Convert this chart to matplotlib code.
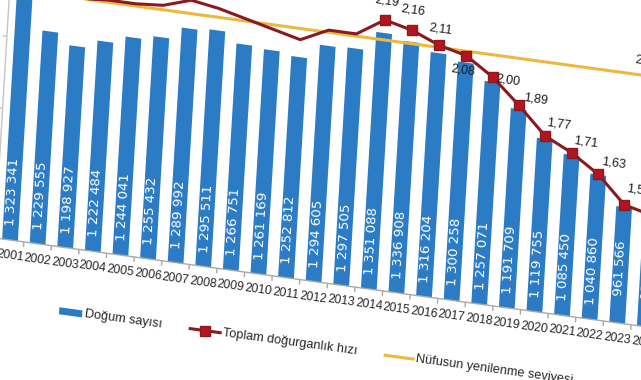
import numpy as np
import matplotlib
matplotlib.use("Agg")
import matplotlib.pyplot as plt
from matplotlib.transforms import Affine2D
from matplotlib.patches import Rectangle
from matplotlib.lines import Line2D

# ---------------- data ----------------
years = list(range(2001, 2025))
births = [1323341, 1229555, 1198927, 1222484, 1244041, 1255432, 1289992, 1295511,
          1266751, 1261169, 1252812, 1294605, 1297505, 1351088, 1336908, 1316204,
          1300258, 1257071, 1191709, 1119755, 1085450, 1040860, 961566, 937559]
birth_labels = ["1 323 341", "1 229 555", "1 198 927", "1 222 484", "1 244 041", "1 255 432",
                "1 289 992", "1 295 511", "1 266 751", "1 261 169", "1 252 812", "1 294 605",
                "1 297 505", "1 351 088", "1 336 908", "1 316 204", "1 300 258", "1 257 071",
                "1 191 709", "1 119 755", "1 085 450", "1 040 860", "961 566", "937 559"]
tfr = [2.38, 2.30, 2.10, 2.11, 2.11, 2.12, 2.16, 2.14, 2.11, 2.08, 2.05, 2.11,
       2.11, 2.19, 2.16, 2.11, 2.08, 2.00, 1.89, 1.77, 1.71, 1.63, 1.51, 1.48]
tfr_label_years = [2014, 2015, 2016, 2017, 2018, 2019, 2020, 2021, 2022, 2023, 2024]
tfr_label_text = ["2,19", "2,16", "2,11", "2,08", "2,00", "1,89", "1,77", "1,71", "1,63", "1,51", "1,48"]
replacement = [2.10] * len(years)
replacement_label = "2,10"
legend_labels = ["Doğum sayısı", "Toplam doğurganlık hızı", "Nüfusun yenilenme seviyesi"]
birth_axis_ticks = [800000, 1000000, 1200000, 1400000]

# ---------------- style / layout ----------------
W, H = 641, 380
BASE_Z = 140.0          # baseline height (px) in upright frame
X0 = 10.0               # x of first bar (px)
STEP = 27.6             # px per year
SLOPE = 0.1365          # horizontal tilt
SHEAR = 0.06            # vertical lean
KB = 1 / 2778.0         # px per birth
B0 = 640000             # birth axis minimum
KT = 222.0              # px per TFR unit
T0 = 0.978              # TFR axis minimum
ANG = -7.77
VANG = 86.6

BLUE = "#2b7cc5"
RED = "#8a1a1e"
REDM = "#b3151f"
GOLD = "#ecb93e"
TXT = "#262626"

fig = plt.figure(figsize=(W / 100, H / 100), dpi=100)
fig.patch.set_facecolor("white")

xl = (2000.45, 2024.6)
Xl = X0 + (xl[0] - years[0]) * STEP
Xr = X0 + (xl[1] - years[0]) * STEP
top_px = 300.0
ax = fig.add_axes([Xl / W, BASE_Z / H, (Xr - Xl) / W, top_px / H])
ax.set_xlim(*xl)
ax.set_ylim(B0, B0 + top_px / KB)
ax.axis("off")
ax2 = ax.twinx()
ax2.set_xlim(*xl)
ax2.set_ylim(T0, T0 + top_px / KT)
ax2.axis("off")

# tilt of the photographed chart (display px -> display px)
A = Affine2D(np.array([[1.0, SHEAR, -SHEAR * BASE_Z],
                       [-SLOPE, 1.0, SLOPE * X0],
                       [0.0, 0.0, 1.0]]))
T1 = ax.transData + A
T2 = ax2.transData + A

# bars
bars = ax.bar(years, [b - B0 for b in births], bottom=B0, width=0.57,
              color=BLUE, edgecolor="none", zorder=1)
for r in bars:
    r.set_transform(T1)
    r.set_clip_on(False)

# bar value labels (inside, white, reading upward)
for yr, lab in zip(years, birth_labels):
    ax.annotate(lab, xy=(yr, B0), xycoords=T1, xytext=(SHEAR * 82, 82),
                textcoords="offset pixels", rotation=VANG, rotation_mode="anchor",
                ha="right", va="center", color="white", fontsize=9.6,
                family="DejaVu Sans", zorder=5, annotation_clip=False)

# x axis line, ticks and year labels
ax.hlines(B0, xl[0], years[-1] + 0.5, colors="#a8a8a8", lw=1.0, transform=T1, clip_on=False)
tick_x = [y - 0.5 for y in years] + [years[-1] + 0.5]
ax.vlines(tick_x, B0 - 5 / KB, B0, colors="#a8a8a8", lw=1.0, transform=T1, clip_on=False)
for yr in years:
    ax.annotate(str(yr), xy=(yr, B0), xycoords=T1, xytext=(0, -16),
                textcoords="offset pixels", rotation=ANG, rotation_mode="anchor",
                ha="center", va="center", color=TXT, fontsize=8.8,
                family="Liberation Sans", annotation_clip=False)

# left axis
ax.vlines(xl[0], B0, B0 + top_px / KB, colors="#c4c4c4", lw=1.0, transform=T1, clip_on=False)
ax.hlines(birth_axis_ticks, xl[0] - 0.15, xl[0], colors="#c4c4c4", lw=1.0, transform=T1,
          clip_on=False)

# replacement level line
ax2.plot(years, replacement, color=GOLD, lw=2.2, transform=T2, clip_on=False, zorder=2,
         solid_capstyle="butt")
ax2.annotate(replacement_label, xy=(years[-1], replacement[-1]), xycoords=T2,
             xytext=(-25, 18), textcoords="offset pixels", rotation=ANG,
             rotation_mode="anchor", ha="left", va="center", color=TXT, fontsize=9,
             family="Liberation Sans", annotation_clip=False)

# TFR line
first_mark = years.index(tfr_label_years[0])
ax2.plot(years, tfr, color=RED, lw=2.2, marker="s", ms=6.5, mfc=REDM, mec=RED,
         markevery=list(range(first_mark, len(years))), transform=T2, clip_on=False, zorder=3)
offsets = [(2, 19), (1, 20), (1, 16), (-3, -15), (15, -3), (17, 6), (14, 12),
           (14, 11), (15, 11), (14, 15), (14, 15)]
for yr, lab, off in zip(tfr_label_years, tfr_label_text, offsets):
    ax2.annotate(lab, xy=(yr, tfr[years.index(yr)]), xycoords=T2, xytext=off,
                 textcoords="offset pixels", rotation=ANG, rotation_mode="anchor",
                 ha="center", va="center", color="#1a1a1a", fontsize=9,
                 family="Liberation Sans", zorder=6, annotation_clip=False)

# legend (drawn in the tilted frame)
LZ = 76.5
fig.add_artist(Rectangle((63, LZ - 3.5), 23, 7, facecolor=BLUE, edgecolor="none",
                         transform=A))
fig.add_artist(Line2D([194, 224], [LZ, LZ], color=RED, lw=2.2, transform=A))
fig.add_artist(Line2D([209], [LZ], color=RED, marker="s", ms=6.5, mfc=REDM, mec=RED,
                      transform=A))
fig.add_artist(Line2D([389, 417], [LZ, LZ], color=GOLD, lw=2.2, transform=A))
for xt, lab in zip([89, 227, 420], legend_labels):
    fig.text(xt, LZ, lab, transform=A, rotation=ANG, rotation_mode="anchor",
             ha="left", va="center", color=TXT, fontsize=9.2, family="Liberation Sans")

fig.savefig("out.png", dpi=100, facecolor="white")
